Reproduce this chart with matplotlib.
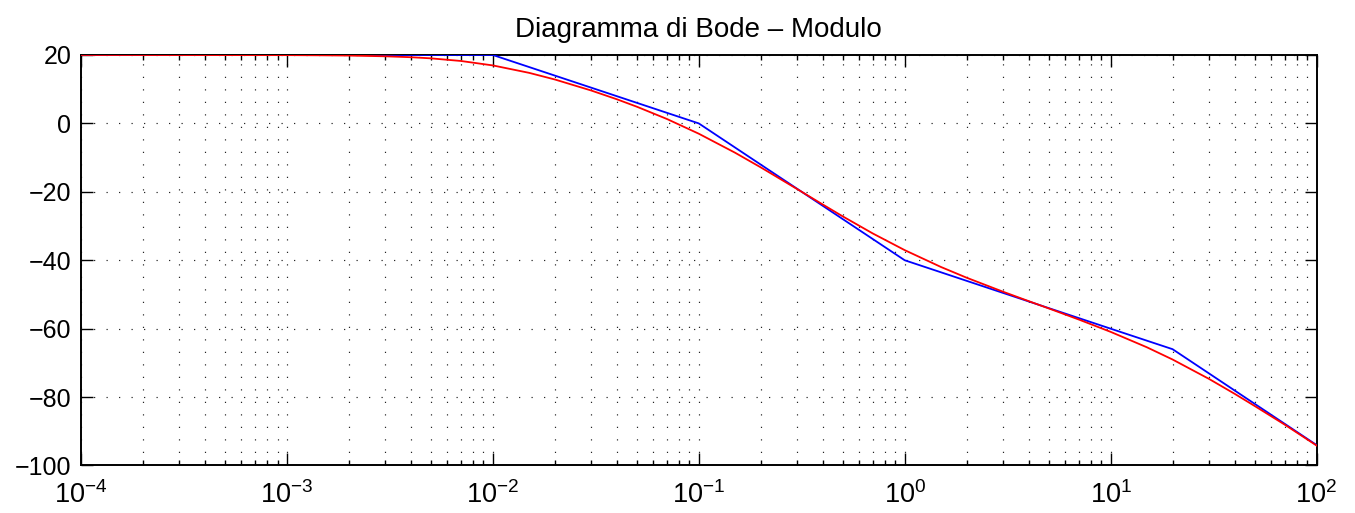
import matplotlib
matplotlib.use("Agg")
import matplotlib.pyplot as plt
from matplotlib.ticker import LogLocator, FixedLocator, NullFormatter, LogFormatterSciNotation

# ---- data ----
title = "Diagramma di Bode – Modulo"

# asymptotic (straight-line) magnitude, blue
asym_w = [1e-4, 1e-2, 1e-1, 1e0, 1e1, 2e1, 1e2]
asym_db = [20, 20, 0, -40, -60, -66, -94]

# real magnitude, red
real_w = [1e-4, 1e-3, 1.5e-3, 2e-3, 3e-3, 4e-3, 5e-3, 7e-3,
          1e-2, 1.5e-2, 2e-2, 3e-2, 4e-2, 5e-2, 7e-2,
          0.1, 0.15, 0.2, 0.3, 0.4, 0.5, 0.7,
          1.0, 1.5, 2.0, 3.0, 4.0, 5.0, 7.0,
          10.0, 15.0, 20.0, 30.0, 40.0, 50.0, 70.0, 100.0]
real_db = [20.00, 19.96, 19.90, 19.83, 19.62, 19.35, 19.02, 18.25,
           16.95, 14.78, 12.84, 9.63, 7.06, 4.89, 1.30,
           -3.01, -8.56, -12.85, -19.17, -23.70, -27.17, -32.17,
           -37.04, -41.97, -45.11, -49.19, -51.95, -54.07, -57.32,
           -60.93, -65.44, -69.02, -74.66, -79.03, -82.58, -88.04, -94.15]

x_ticks = [1e-4, 1e-3, 1e-2, 1e-1, 1e0, 1e1, 1e2]
y_ticks = [-100, -80, -60, -40, -20, 0, 20]
x_limits = (1e-4, 1e2)
y_limits = (-100, 20)

# ---- style ----
plt.rcParams['font.family'] = ['Liberation Sans', 'DejaVu Sans']
plt.rcParams['mathtext.fontset'] = 'custom'
plt.rcParams['mathtext.rm'] = 'Liberation Sans'
plt.rcParams['mathtext.it'] = 'Liberation Sans:italic'
plt.rcParams['mathtext.bf'] = 'Liberation Sans:bold'
plt.rcParams['lines.scale_dashes'] = False

fig = plt.figure(figsize=(13.55, 5.13), dpi=100)
ax = fig.add_axes([0.0598, 0.0926, 0.9118, 0.8002])

ax.semilogx(asym_w, asym_db, color=(0, 0, 1), lw=1.3, zorder=3)
ax.semilogx(real_w, real_db, color=(1, 0, 0), lw=1.3, zorder=3)

ax.set_xlim(*x_limits)
ax.set_ylim(*y_limits)
ax.yaxis.set_major_locator(FixedLocator(y_ticks))
ax.xaxis.set_major_locator(FixedLocator(x_ticks))
ax.xaxis.set_major_formatter(LogFormatterSciNotation(base=10))
ax.xaxis.set_minor_locator(LogLocator(base=10, subs=range(2, 10), numticks=20))
ax.xaxis.set_minor_formatter(NullFormatter())

ax.tick_params(which='both', direction='in', top=True, right=True,
               width=1.0, colors='black')
ax.tick_params(which='major', length=8.5)
ax.tick_params(which='minor', length=3.8)
ax.tick_params(axis='y', pad=7, labelsize=18)
ax.tick_params(axis='x', pad=11, labelsize=19.5)

for s in ax.spines.values():
    s.set_linewidth(1.4)

grid_kw = dict(color='black', linewidth=0.85, linestyle=(0, (0.9, 8.1)), alpha=0.85)
ax.grid(True, which='major', axis='both', **grid_kw)
ax.grid(True, which='minor', axis='x', **grid_kw)

ax.set_title(title, fontsize=20, pad=13)

fig.savefig("out.png", dpi=100)
